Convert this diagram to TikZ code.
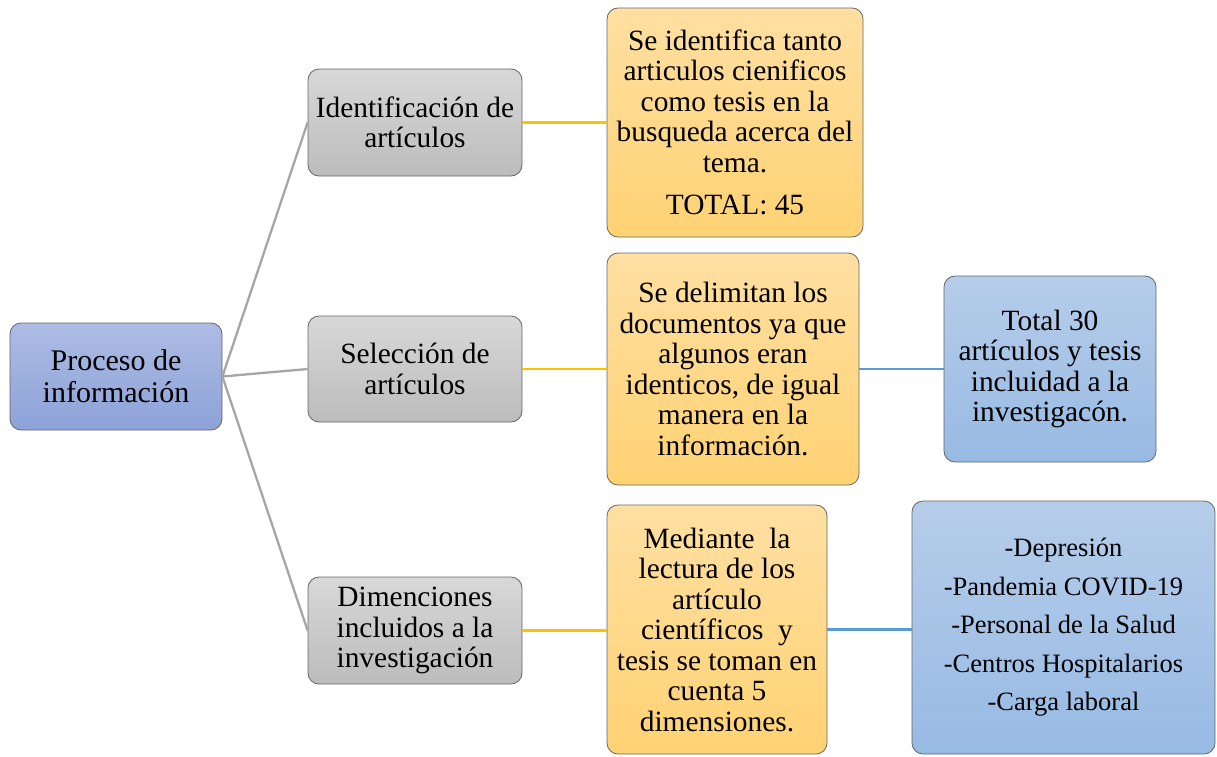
\documentclass[tikz,border=0pt]{standalone}
\usepackage{fontspec}
\setmainfont{Liberation Serif}
\definecolor{rootTop}{HTML}{AEBCE4}
\definecolor{rootBot}{HTML}{8DA2D8}
\definecolor{grayTop}{HTML}{D8D8D8}
\definecolor{grayBot}{HTML}{BCBCBC}
\definecolor{oraTop}{HTML}{FFDFA2}
\definecolor{oraBot}{HTML}{FFD273}
\definecolor{bluTop}{HTML}{B6CDEA}
\definecolor{bluBot}{HTML}{97BAE3}
\definecolor{edgeGray}{HTML}{666666}
\definecolor{lnGray}{HTML}{A6A6A6}
\definecolor{lnOra}{HTML}{FFC000}
\definecolor{lnBlu}{HTML}{5B9BD5}
\tikzset{
  box/.style={draw=edgeGray, line width=0.8pt, rounded corners=11pt, align=center,
    inner sep=2pt, font=\fontsize{29.4}{30.5}\selectfont},
  rootbox/.style={box, top color=rootTop, bottom color=rootBot},
  graybox/.style={box, top color=grayTop, bottom color=grayBot},
  orabox/.style={box, top color=oraTop, bottom color=oraBot},
  blubox/.style={box, top color=bluTop, bottom color=bluBot},
  grayln/.style={draw=lnGray, line width=2.3pt},
  orangeln/.style={draw=lnOra, line width=2.3pt},
  blueln/.style={draw=lnBlu, line width=2.3pt}
}
\begin{document}
\begin{tikzpicture}[x=1pt,y=-1pt]
\useasboundingbox (0,0) rectangle (1217,756);
\node[rootbox, minimum width=212pt, minimum height=107pt, font=\fontsize{30}{32}\selectfont] (root) at (116,376.5) {Proceso de\\información};
\node[graybox, minimum width=214pt, minimum height=107pt] (g1) at (415,122.5) {Identificación de\\artículos};
\node[graybox, minimum width=214pt, minimum height=106pt] (g2) at (415,369) {Selección de\\artículos};
\node[graybox, minimum width=214pt, minimum height=107pt] (g3) at (415,630.5) {Dimenciones\\incluidos a la\\investigación};
\node[orabox, minimum width=256pt, minimum height=229pt] (o1) at (735,122.5) {Se identifica tanto\\articulos cienificos\\como tesis en la\\busqueda acerca del\\tema.\\[12pt]TOTAL: 45};
\node[orabox, minimum width=252pt, minimum height=232pt] (o2) at (733,369) {Se delimitan los\\documentos ya que\\algunos eran\\identicos, de igual\\manera en la\\información.};
\node[orabox, minimum width=220pt, minimum height=249pt] (o3) at (717,629.5) {Mediante\ \ la\\lectura de los\\artículo\\científicos\ \ y\\tesis se toman en\\cuenta 5\\dimensiones.};
\node[blubox, minimum width=212pt, minimum height=186pt] (b1) at (1050,369) {Total 30\\artículos y tesis\\incluidad a la\\investigacón.};
\node[blubox, minimum width=303pt, minimum height=253pt, font=\fontsize{26.5}{38.5}\selectfont] (b2) at (1063.5,627.5) {-Depresión\\-Pandemia COVID-19\\-Personal de la Salud\\-Centros Hospitalarios\\-Carga laboral};
\draw[grayln] (root.east) -- (g1.west);
\draw[grayln] (root.east) -- (g2.west);
\draw[grayln] (root.east) -- (g3.west);
\draw[orangeln] (g1.east) -- (o1.west |- g1.east);
\draw[orangeln] (g2.east) -- (o2.west |- g2.east);
\draw[orangeln] (g3.east) -- (o3.west |- g3.east);
\draw[blueln] (o2.east) -- (b1.west);
\draw[blueln] (o3.east) -- (b2.west |- o3.east);
\end{tikzpicture}
\end{document}
